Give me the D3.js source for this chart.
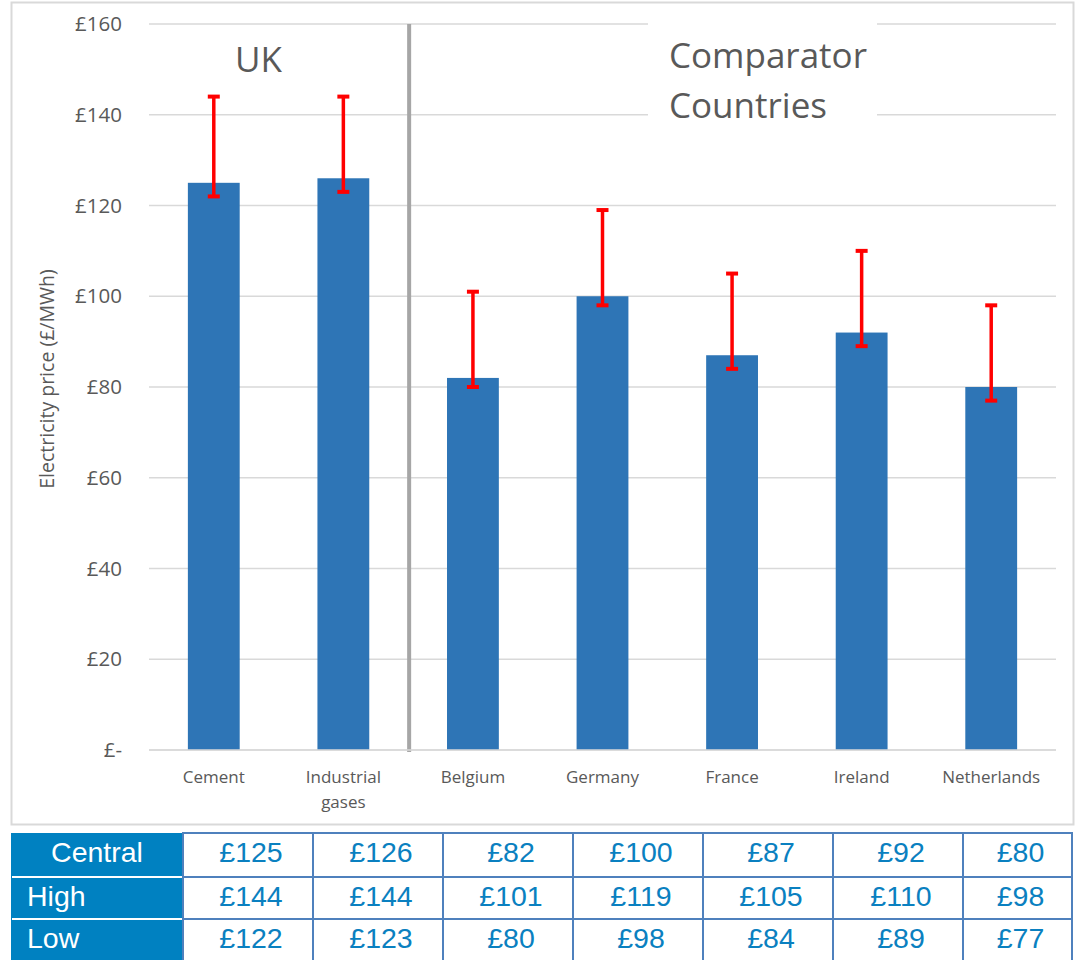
<!DOCTYPE html>
<html>
<head>
<meta charset="utf-8">
<script src="https://cdn.jsdelivr.net/npm/d3@7"></script>
<style>
  body { margin: 0; background: #fff; }
  svg { display: block; }
</style>
</head>
<body>
<svg id="canvas" width="1083" height="960"></svg>
<script>
"use strict"

// chart data
let categories = ["Cement", "Industrial gases", "Belgium", "Germany", "France", "Ireland", "Netherlands"];
let centralValues = [125, 126, 82, 100, 87, 92, 80];
let highValues = [144, 144, 101, 119, 105, 110, 98];
let lowValues = [122, 123, 80, 98, 84, 89, 77];
let yTicks = [0, 20, 40, 60, 80, 100, 120, 140, 160];
let rowLabels = ["Central", "High", "Low"];

let rows = [centralValues, highValues, lowValues];

let drawing = d3.select("#canvas");
let font = "'Open Sans', sans-serif";
let textGrey = "#595959";

drawing.append("rect")
    .attr("width", 1083).attr("height", 960)
    .attr("fill", "white");

// outer chart border
drawing.append("rect")
    .attr("x", 11.5).attr("y", 2.5)
    .attr("width", 1062).attr("height", 822)
    .attr("fill", "none")
    .attr("stroke", "#d9d9d9")
    .attr("stroke-width", 2);

// scales
let x = d3.scaleBand()
    .domain(categories)
    .range([149, 1056])
    .paddingInner(0.6)
    .paddingOuter(0.3);

let y = d3.scaleLinear()
    .domain([0, 160])
    .range([750, 24]);

// gridlines
drawing.append("g")
    .selectAll("line")
    .data(yTicks)
    .join("line")
    .attr("x1", 149).attr("x2", 1056)
    .attr("y1", d => y(d)).attr("y2", d => y(d))
    .attr("stroke", "#d9d9d9")
    .attr("stroke-width", 1.5);

// y axis labels
let yAxis = drawing.append("g")
    .attr("transform", "translate(122,0)")
    .call(d3.axisLeft(y).tickValues(yTicks).tickSize(0).tickPadding(0)
        .tickFormat(d => d == 0 ? "£-" : "£" + d));
yAxis.select(".domain").remove();
yAxis.selectAll("text")
    .attr("font-family", font)
    .attr("font-size", 20.5)
    .attr("fill", textGrey);

// y axis title
drawing.append("text")
    .attr("transform", "translate(54,379) rotate(-90)")
    .attr("text-anchor", "middle")
    .attr("font-family", font)
    .attr("font-size", 19.5)
    .attr("fill", textGrey)
    .text("Electricity price (£/MWh)");

// bars
drawing.append("g")
    .selectAll("rect")
    .data(categories)
    .join("rect")
    .attr("x", d => x(d))
    .attr("y", (d, i) => y(centralValues[i]))
    .attr("width", x.bandwidth())
    .attr("height", (d, i) => y(0) - y(centralValues[i]))
    .attr("fill", "#2e75b6");

// error bars
let errors = drawing.append("g")
    .attr("stroke", "#ff0000");
categories.forEach((c, i) => {
    let cx = x(c) + x.bandwidth() / 2;
    errors.append("line")
        .attr("x1", cx).attr("x2", cx)
        .attr("y1", y(highValues[i])).attr("y2", y(lowValues[i]))
        .attr("stroke-width", 3.5);
    [highValues[i], lowValues[i]].forEach(v => {
        errors.append("line")
            .attr("x1", cx - 6).attr("x2", cx + 6)
            .attr("y1", y(v)).attr("y2", y(v))
            .attr("stroke-width", 4);
    });
});

// divider between UK and comparators
let divX = (x("Industrial gases") + x.bandwidth() + x("Belgium")) / 2;
drawing.append("line")
    .attr("x1", divX + 1).attr("x2", divX + 1)
    .attr("y1", y(160)).attr("y2", y(0) + 2)
    .attr("stroke", "#a6a6a6")
    .attr("stroke-width", 4);

// x axis line
drawing.append("line")
    .attr("x1", 149).attr("x2", 1056)
    .attr("y1", y(0)).attr("y2", y(0))
    .attr("stroke", "#d9d9d9")
    .attr("stroke-width", 1.5);

// x labels
drawing.append("g")
    .selectAll("text")
    .data(categories)
    .join("text")
    .attr("x", d => x(d) + x.bandwidth() / 2)
    .attr("y", 783)
    .attr("text-anchor", "middle")
    .attr("font-family", font)
    .attr("font-size", 17)
    .attr("fill", textGrey)
    .each(function (d) {
        let words = d == "Industrial gases" ? ["Industrial", "gases"] : [d];
        d3.select(this).selectAll("tspan")
            .data(words)
            .join("tspan")
            .attr("x", x(d) + x.bandwidth() / 2)
            .attr("dy", (w, j) => j == 0 ? 0 : 25)
            .text(w => w);
    });

// group titles
drawing.append("text")
    .attr("x", 235).attr("y", 72)
    .attr("font-family", font)
    .attr("font-size", 35)
    .attr("fill", textGrey)
    .text("UK");

drawing.append("rect")
    .attr("x", 648).attr("y", 14)
    .attr("width", 229).attr("height", 110)
    .attr("fill", "white");

drawing.append("text")
    .attr("x", 669).attr("y", 68)
    .attr("font-family", font)
    .attr("font-size", 35)
    .attr("fill", textGrey)
    .selectAll("tspan")
    .data(["Comparator", "Countries"])
    .join("tspan")
    .attr("x", 669)
    .attr("dy", (d, i) => i == 0 ? 0 : 50)
    .text(d => d);

// data table
let tableTop = 833;
let rowTops = [833, 877, 919, 962];
let tableFont = "'Liberation Sans', Arial, sans-serif";
let tableBlue = "#0a80c0";

let col = d3.scaleBand()
    .domain(categories)
    .range([183, 1093]);

let headerCol = drawing.append("g");
headerCol.append("rect")
    .attr("x", 11).attr("y", tableTop)
    .attr("width", 172).attr("height", 960 - tableTop)
    .attr("fill", "#0081c1");
rowLabels.forEach((r, i) => {
    if (i > 0) {
        headerCol.append("line")
            .attr("x1", 12).attr("x2", 182)
            .attr("y1", rowTops[i]).attr("y2", rowTops[i])
            .attr("stroke", "white")
            .attr("stroke-width", 2);
    }
    headerCol.append("text")
        .attr("x", i == 0 ? 97 : 27)
        .attr("y", rowTops[i] + 29)
        .attr("text-anchor", i == 0 ? "middle" : "start")
        .attr("font-family", tableFont)
        .attr("font-size", 28.5)
        .attr("fill", "white")
        .text(r);
});

let cells = drawing.append("g");
rows.forEach((vals, i) => {
    categories.forEach((c, j) => {
        let cx0 = col(c);
        let w = Math.min(col.bandwidth(), 1072 - cx0);
        cells.append("rect")
            .attr("x", cx0).attr("y", rowTops[i])
            .attr("width", w).attr("height", rowTops[i + 1] - rowTops[i])
            .attr("fill", "white")
            .attr("stroke", "#4f81bd")
            .attr("stroke-width", 2);
        cells.append("text")
            .attr("x", cx0 + w / 2 + 3)
            .attr("y", rowTops[i] + 29)
            .attr("text-anchor", "middle")
            .attr("font-family", tableFont)
            .attr("font-size", 28.5)
            .attr("fill", tableBlue)
            .text("£" + vals[j]);
    });
});
</script>
</body>
</html>
